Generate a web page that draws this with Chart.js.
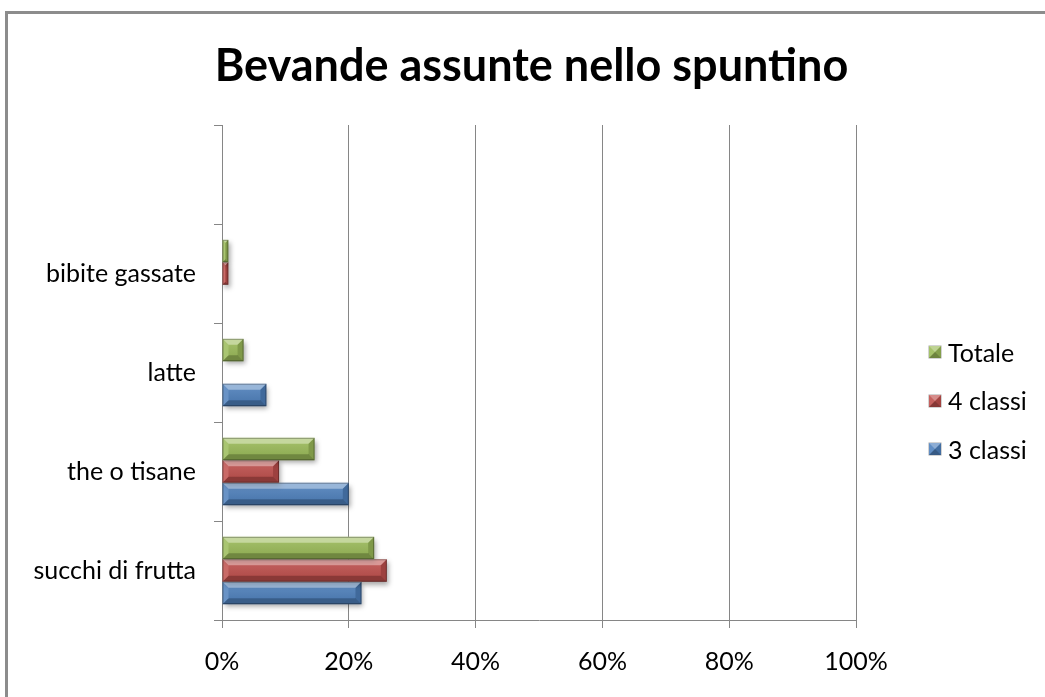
<!DOCTYPE html>
<html>
<head>
<meta charset="utf-8">
<title>Bevande assunte nello spuntino</title>
<script src="https://cdn.jsdelivr.net/npm/chart.js@4.4.1/dist/chart.umd.min.js"></script>
<style>
  html, body { margin: 0; padding: 0; background: #fff; overflow: hidden; }
  #wrap { position: relative; width: 1045px; height: 697px; font-family: Lato, "Open Sans", sans-serif; }
  #frame {
    position: absolute; left: 5px; top: 11px; width: 1200px; height: 900px;
    border: 3px solid #8c8c8c; pointer-events: none;
  }
  #legend { position: absolute; left: 929px; top: 328px; }
  .legend-item { position: relative; height: 48.5px; display: flex; align-items: center; }
  .legend-box {
    width: 0; height: 0; border-style: solid; border-width: 6px; margin-right: 7px;
    box-shadow: 0 0 0 0.5px rgba(0,0,0,0.35);
  }
  .legend-text { font-size: 25px; color: #000; line-height: 1; }
</style>
</head>
<body>
<div id="wrap">
  <canvas id="chart" width="1045" height="697"></canvas>
  <div id="legend"></div>
  <div id="frame"></div>
</div>
<script>
// categories top to bottom, the first slot is left empty
const categories = ['', 'bibite gassate', 'latte', 'the o tisane', 'succhi di frutta'];
const totale   = [0, 1.0, 3.4, 14.6, 24];
const quattro  = [0, 1.0, 0, 9, 26];
const tre      = [0, 0, 7, 20, 22];
const xTicks   = [0, 20, 40, 60, 80, 100];

const seriesNames  = ['Totale', '4 classi', '3 classi'];
const seriesColors = ['#9bbb59', '#c0504d', '#4f81bd'];

const FONT = 'Lato, "Open Sans", sans-serif';
const GRID = '#868686';

// bevelled faces on every bar, plus a soft shadow under them
const bevelPlugin = {
  id: 'bevel',
  beforeDatasetsDraw(chart) {
    const ctx = chart.ctx;
    ctx.save();
    ctx.shadowColor = 'rgba(0,0,0,0.35)';
    ctx.shadowBlur = 5;
    ctx.shadowOffsetX = 2;
    ctx.shadowOffsetY = 3;
  },
  afterDatasetsDraw(chart) {
    const ctx = chart.ctx;
    ctx.restore();
    chart.data.datasets.forEach((ds, i) => {
      chart.getDatasetMeta(i).data.forEach(bar => {
        const p = bar.getProps(['x', 'y', 'base', 'height'], true);
        const x0 = Math.min(p.x, p.base), x1 = Math.max(p.x, p.base);
        const y0 = p.y - p.height / 2, y1 = p.y + p.height / 2;
        if (x1 - x0 < 1) return;
        drawBevel(ctx, x0, y0, x1, y1, 6);
      });
    });
  }
};

function poly(ctx, pts, fill) {
  ctx.beginPath();
  ctx.moveTo(pts[0][0], pts[0][1]);
  for (let k = 1; k < pts.length; k++) ctx.lineTo(pts[k][0], pts[k][1]);
  ctx.closePath();
  ctx.fillStyle = fill;
  ctx.fill();
}

function drawBevel(ctx, x0, y0, x1, y1, size) {
  const b = Math.min(size, (x1 - x0) / 2, (y1 - y0) / 2);
  ctx.save();
  const g = ctx.createLinearGradient(0, y0, 0, y1);
  g.addColorStop(0, 'rgba(255,255,255,0.12)');
  g.addColorStop(1, 'rgba(0,0,0,0.10)');
  ctx.fillStyle = g;
  ctx.fillRect(x0 + b, y0 + b, x1 - x0 - 2 * b, y1 - y0 - 2 * b);
  poly(ctx, [[x0, y0], [x1, y0], [x1 - b, y0 + b], [x0 + b, y0 + b]], 'rgba(255,255,255,0.42)');
  poly(ctx, [[x0, y1], [x1, y1], [x1 - b, y1 - b], [x0 + b, y1 - b]], 'rgba(0,0,0,0.28)');
  poly(ctx, [[x0, y0], [x0 + b, y0 + b], [x0 + b, y1 - b], [x0, y1]], 'rgba(255,255,255,0.15)');
  poly(ctx, [[x1, y0], [x1 - b, y0 + b], [x1 - b, y1 - b], [x1, y1]], 'rgba(0,0,0,0.18)');
  ctx.strokeStyle = 'rgba(0,0,0,0.30)';
  ctx.lineWidth = 1;
  ctx.strokeRect(x0 + 0.5, y0 + 0.5, x1 - x0 - 1, y1 - y0 - 1);
  ctx.restore();
}

// mix a hex colour towards white (t > 0) or black (t < 0)
function shade(hex, t) {
  const n = parseInt(hex.slice(1), 16);
  const c = [(n >> 16) & 255, (n >> 8) & 255, n & 255].map(v =>
    Math.round(t >= 0 ? v + (255 - v) * t : v * (1 + t)));
  return `rgb(${c[0]},${c[1]},${c[2]})`;
}

const chart = new Chart(document.getElementById('chart'), {
  type: 'bar',
  data: {
    labels: categories,
    datasets: [
      { label: seriesNames[0], data: totale,  backgroundColor: seriesColors[0] },
      { label: seriesNames[1], data: quattro, backgroundColor: seriesColors[1] },
      { label: seriesNames[2], data: tre,     backgroundColor: seriesColors[2] }
    ]
  },
  options: {
    indexAxis: 'y',
    responsive: false,
    animation: false,
    borderWidth: 0,
    categoryPercentage: 0.68,
    barPercentage: 1.0,
    layout: { padding: { left: 18, right: 0, top: 0, bottom: 0 } },
    scales: {
      x: {
        min: 0,
        max: 100,
        afterFit: s => { s.height = 77; },
        afterBuildTicks: s => { s.ticks = xTicks.map(v => ({ value: v })); },
        ticks: {
          callback: v => v + '%',
          color: '#000',
          font: { family: FONT, size: 25 },
          padding: 19,
          maxRotation: 0
        },
        grid: { color: GRID, lineWidth: 1, tickLength: 8 },
        border: { color: GRID, width: 1 }
      },
      y: {
        afterFit: s => { s.width = 204; },
        ticks: {
          color: '#000',
          font: { family: FONT, size: 25 },
          padding: 18
        },
        grid: { drawOnChartArea: false, offset: true, color: GRID, tickLength: 8 },
        border: { color: GRID, width: 1 }
      },
      // empty strip on the right that holds the legend
      side: {
        type: 'linear',
        position: 'right',
        afterFit: s => { s.width = 189; },
        ticks: { display: false },
        grid: { display: false },
        border: { display: false }
      }
    },
    plugins: {
      title: {
        display: true,
        text: 'Bevande assunte nello spuntino',
        color: '#000',
        font: { family: FONT, size: 45, weight: 'bold', lineHeight: 1.2 },
        padding: { top: 39, bottom: 32 }
      },
      legend: { display: false },
      tooltip: { enabled: false }
    }
  },
  plugins: [bevelPlugin]
});

// legend built from the datasets
const legendEl = document.getElementById('legend');
chart.data.datasets.forEach(ds => {
  const base = ds.backgroundColor;
  const item = document.createElement('div');
  item.className = 'legend-item';
  item.innerHTML = `
    <span class="legend-box" style="border-color:${shade(base, 0.35)} ${shade(base, -0.15)} ${shade(base, -0.3)} ${shade(base, 0.1)}"></span>
    <span class="legend-text">${ds.label}</span>
  `;
  legendEl.appendChild(item);
});
</script>
</body>
</html>
